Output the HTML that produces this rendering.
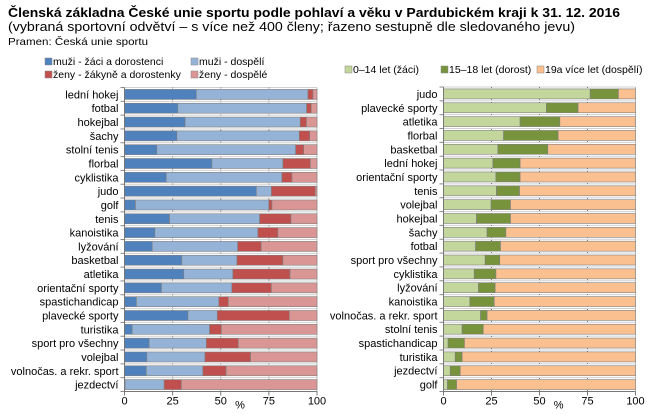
<!DOCTYPE html>
<html><head><meta charset="utf-8"><style>
body{margin:0;background:#fff;width:657px;height:415px;overflow:hidden}
svg{display:block;font-family:"Liberation Sans",sans-serif}
</style></head><body>
<svg id="s" width="657" height="415" xmlns="http://www.w3.org/2000/svg">
<text x="8" y="17" font-size="13" font-weight="bold" textLength="612" lengthAdjust="spacingAndGlyphs">Členská základna České unie sportu podle pohlaví a věku v Pardubickém kraji k 31. 12. 2016</text>
<text x="8" y="31" font-size="12.5" textLength="567" lengthAdjust="spacingAndGlyphs">(vybraná sportovní odvětví – s více než 400 členy; řazeno sestupně dle sledovaného jevu)</text>
<text x="8" y="45" font-size="10.5" textLength="140" lengthAdjust="spacingAndGlyphs">Pramen: Česká unie sportu</text>
<g font-size="10.5">
<rect x="45" y="58" width="7" height="7" fill="#4f81bd" stroke="#888" stroke-width=".5"/><text x="53" y="65">muži - žáci a dorostenci</text>
<rect x="191" y="58" width="7" height="7" fill="#95b3d7" stroke="#888" stroke-width=".5"/><text x="199" y="65">muži - dospělí</text>
<rect x="45" y="71" width="7" height="7" fill="#c0504d" stroke="#888" stroke-width=".5"/><text x="53" y="78">ženy - žákyně a dorostenky</text>
<rect x="191" y="71" width="7" height="7" fill="#d99694" stroke="#888" stroke-width=".5"/><text x="199" y="78">ženy - dospělé</text>
<rect x="345" y="66" width="7" height="7" fill="#c3d69b" stroke="#888" stroke-width=".5"/><text x="353" y="73">0–14 let (žáci)</text>
<rect x="441" y="66" width="7" height="7" fill="#77933c" stroke="#888" stroke-width=".5"/><text x="449" y="73">15–18 let (dorost)</text>
<rect x="537" y="66" width="7" height="7" fill="#fac090" stroke="#888" stroke-width=".5"/><text x="545" y="73">19a více let (dospělí)</text>
</g>
<g id="g"></g>
</svg>
<script>
var L=[["lední hokej",37.3,95.3,97.9],["fotbal",27.7,94.6,97],["hokejbal",31.5,91.3,94.5],["šachy",27.2,90.8,96.2],["stolní tenis",16.8,88.9,93.1],["florbal",45.4,82.3,96.5],["cyklistika",21.7,81.8,87],["judo",68.5,76.3,99.1],["golf",5.7,75,76.6],["tenis",23.4,70.2,86.5],["kanoistika",15.8,69.3,79.7],["lyžování",14.4,58.8,71],["basketbal",29.8,58.4,82.3],["atletika",30.8,56.3,86],["orientační sporty",19.2,55.8,76.3],["spastichandicap",6.2,49,53.9],["plavecké sporty",33,48.2,85.6],["turistika",4,44.2,50.3],["sport pro všechny",12.8,42.5,59.1],["volejbal",11.6,41.8,65.5],["volnočas. a rekr. sport",11.3,40.7,52.8],["jezdectví",0.3,20.6,29.5]];
var R=[["judo",76.4,91.1],["plavecké sporty",53.6,70.1],["atletika",39.9,60.6],["florbal",31.3,59.7],["basketbal",28.3,54.3],["lední hokej",25.7,39.9],["orientační sporty",27.3,39.9],["tenis",27.6,39.6],["volejbal",24.8,34.9],["hokejbal",17.2,34.9],["šachy",22.7,32.5],["fotbal",16.7,29.7],["sport pro všechny",21.7,29.3],["cyklistika",16,27.3],["lyžování",18.2,26.9],["kanoistika",13.7,26.4],["volnočas. a rekr. sport",19.3,22.7],["stolní tenis",9.7,20.7],["spastichandicap",2.4,10.9],["turistika",6.1,9.7],["jezdectví",3.5,8.7],["golf",2.1,6.8]];
var h='';
function chart(D,x0,x1,top,bot,cols){
 var n=D.length,sp=(bot-top)/n,w=(x1-x0)/100;
 for(var i=0;i<=n;i++){var y=top+i*sp;h+='<line x1="'+x0+'" x2="'+x1+'" y1="'+y+'" y2="'+y+'" stroke="#d0d0d0" stroke-width="1"/>';
  h+='<line x1="'+(x0-4)+'" x2="'+x0+'" y1="'+y+'" y2="'+y+'" stroke="#888"/>';}
 [25,50,75].forEach(function(v){var x=x0+v*w;h+='<line x1="'+x+'" x2="'+x+'" y1="'+top+'" y2="'+bot+'" stroke="#777" stroke-dasharray="1,2"/>';});
 h+='<line x1="'+x1+'" x2="'+x1+'" y1="'+top+'" y2="'+bot+'" stroke="#bbb"/>';
 for(var i=0;i<n;i++){var d=D[i],yc=top+(i+0.5)*sp,p=0,v=d.slice(1).concat([100]);
  for(var k=0;k<v.length;k++){h+='<rect x="'+(x0+p*w)+'" y="'+(yc-5)+'" width="'+((v[k]-p)*w)+'" height="10" fill="'+cols[k]+'" stroke="#7f7f7f" stroke-width=".6"/>';p=v[k];}
  h+='<text x="'+(x0-6)+'" y="'+(yc+4)+'" font-size="11" text-anchor="end">'+d[0]+'</text>';}
 h+='<line x1="'+x0+'" x2="'+x0+'" y1="'+top+'" y2="'+bot+'" stroke="#777"/>';
 h+='<line x1="'+x0+'" x2="'+x1+'" y1="'+bot+'" y2="'+bot+'" stroke="#777"/>';
 [0,25,50,75,100].forEach(function(v){var x=x0+v*w;h+='<line x1="'+x+'" x2="'+x+'" y1="'+bot+'" y2="'+(bot+4)+'" stroke="#777"/><text x="'+x+'" y="'+(bot+13)+'" font-size="11" text-anchor="middle">'+v+'</text>';});
 h+='<text x="'+(x0+60*w)+'" y="'+(bot+17)+'" font-size="11" text-anchor="middle">%</text>';
}
chart(L,124.5,317,87.5,391.5,["#4f81bd","#95b3d7","#c0504d","#d99694"]);
chart(R,443.5,635.5,87,391.5,["#c3d69b","#77933c","#fac090"]);
document.getElementById('g').innerHTML=h;
</script>
</body></html>
